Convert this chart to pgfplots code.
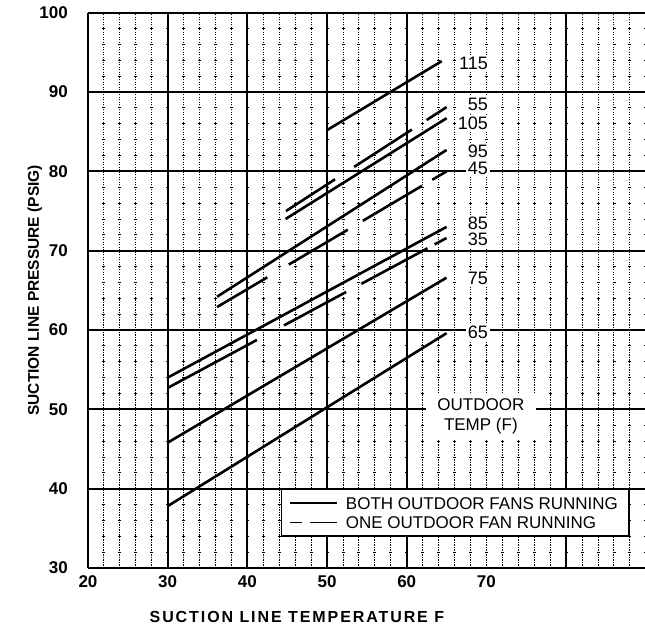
\documentclass[border=0pt]{standalone}
\usepackage{fontspec}
\setmainfont{Liberation Sans}
\newfontfamily\xlabfont[LetterSpace=12]{Liberation Sans}
\usepackage{pgfplots}
\pgfplotsset{compat=1.18}

\begin{document}
\begin{tikzpicture}
\useasboundingbox (0,0) rectangle (645pt,635pt);
\begin{axis}[
    at={(88pt,67pt)}, anchor=south west,
    scale only axis, width=557pt, height=555.3pt,
    xmin=20, xmax=89.9, ymin=30, ymax=100,
    axis x line*=box, axis y line*=left,
    axis line style={line width=2.4pt},
    tick style={draw=none},
    /pgf/number format/assume math mode=true,
    xtick={20,30,40,50,60,70}, xticklabels={20,30,40,50,60,70},
    ytick={30,40,...,100}, yticklabels={30,40,50,60,70,80,90,100},
    minor xtick={22,24,...,88},
    xminorgrids=true, ymajorgrids=true,
    major grid style={black, line width=1.8pt},
    minor grid style={black, line width=0.9pt, dash pattern=on 1.2pt off 1.3pt},
    extra x ticks={30,40,50,60,80}, extra x tick labels={},
    extra x tick style={grid=major, major grid style={black, line width=2pt}},
    extra y ticks={32,34,36,38,42,44,46,48,52,54,56,58,62,64,66,68,72,74,76,78,82,84,86,88,92,94,96,98},
    extra y tick labels={},
    extra y tick style={grid=major, major grid style={black, line width=0.8pt, dash pattern=on 3pt off 12.94pt, dash phase=1.5pt}},
    ticklabel style={font=\fontsize{17}{18}\selectfont\bfseries},
    xticklabel style={anchor=north, inner sep=0pt, yshift=-7pt},
    yticklabel style={anchor=east, inner sep=0pt, xshift=-20pt},
    xlabel={SUCTION LINE TEMPERATURE F},
    ylabel={SUCTION LINE PRESSURE (PSIG)},
    xlabel style={at={(axis description cs:0.375,-0.0882)}, anchor=center, font=\fontsize{16}{18}\selectfont\xlabfont\bfseries},
    ylabel style={at={(axis description cs:-0.0952,0.5)}, anchor=center, font=\fontsize{15.5}{18}\selectfont\bfseries},
    legend style={at={(axis cs:44.2,40.0)}, anchor=north west, draw=black, line width=1.6pt, fill=white,
        inner xsep=8pt, inner ysep=4pt, font=\fontsize{17}{20}\selectfont, row sep=0pt, column sep=5pt,
        nodes={inner xsep=3pt, inner ysep=3.5pt, text height=12.3pt, text depth=0pt}},
    legend cell align=left,
    every axis plot/.append style={black, line width=2.6pt},
    unbounded coords=jump,
]

% both outdoor fans running
\addplot[legend image code/.code={\draw[line width=1.3pt] (0pt,0pt) -- (47pt,0pt);}]
    coordinates {(30,37.8) (65,59.6)};
\addlegendentry{BOTH OUTDOOR FANS RUNNING}

% one outdoor fan running (35), drawn dash by dash
\addplot[legend image code/.code={\draw[line width=1.3pt, dash pattern=on 12pt off 8pt on 27pt off 0pt] (0pt,0pt) -- (47pt,0pt);}]
    coordinates {(30,52.7) (41.2,58.75) (41.2,nan) (44.6,60.58) (52.4,64.80) (52.4,nan)
                 (54.3,65.82) (62.6,70.30) (62.6,nan) (63.5,70.79) (65,71.6)};
\addlegendentry{ONE OUTDOOR FAN RUNNING}

\addplot[forget plot] coordinates {(30,45.8) (65,66.6)};    % 75
\addplot[forget plot] coordinates {(30,54.0) (65,73.0)};    % 85
\addplot[forget plot] coordinates {(36.2,64.2) (65,82.7)};  % 95
\addplot[forget plot] coordinates {(44.8,74.0) (65,86.7)};  % 105
\addplot[forget plot] coordinates {(50,85.2) (64.4,93.9)};  % 115

% 45
\addplot[forget plot] coordinates {(36.2,62.9) (42.5,66.64) (42.5,nan) (45.2,68.25) (52.6,72.64) (52.6,nan)
                 (54.5,73.77) (61.9,78.17) (61.9,nan) (63.2,78.94) (65,80.0)};
% 55
\addplot[forget plot] coordinates {(44.85,75.0) (51.0,79.0) (51.0,nan) (53.4,80.56) (60.65,85.27) (60.65,nan)
                 (62.5,86.47) (65,88.1)};

% outdoor temperature labels
\begin{scope}[every node/.style={anchor=east, fill=white, inner sep=2pt, font=\fontsize{18}{20}\selectfont}]
\node at (axis cs:70.45,93.6) {115};
\node at (axis cs:70.45,88.4) {55};
\node at (axis cs:70.45,86.0) {105};
\node at (axis cs:70.45,82.5) {95};
\node at (axis cs:70.45,80.4) {45};
\node at (axis cs:70.45,73.5) {85};
\node at (axis cs:70.45,71.4) {35};
\node at (axis cs:70.45,66.5) {75};
\node at (axis cs:70.45,59.7) {65};
\end{scope}
\node[fill=white, inner sep=0pt, minimum width=110pt, minimum height=47pt, align=center,
      font=\fontsize{17}{20}\selectfont] at (axis cs:69.3,49.08) {OUTDOOR\\TEMP (F)};

\end{axis}
\end{tikzpicture}
\end{document}
